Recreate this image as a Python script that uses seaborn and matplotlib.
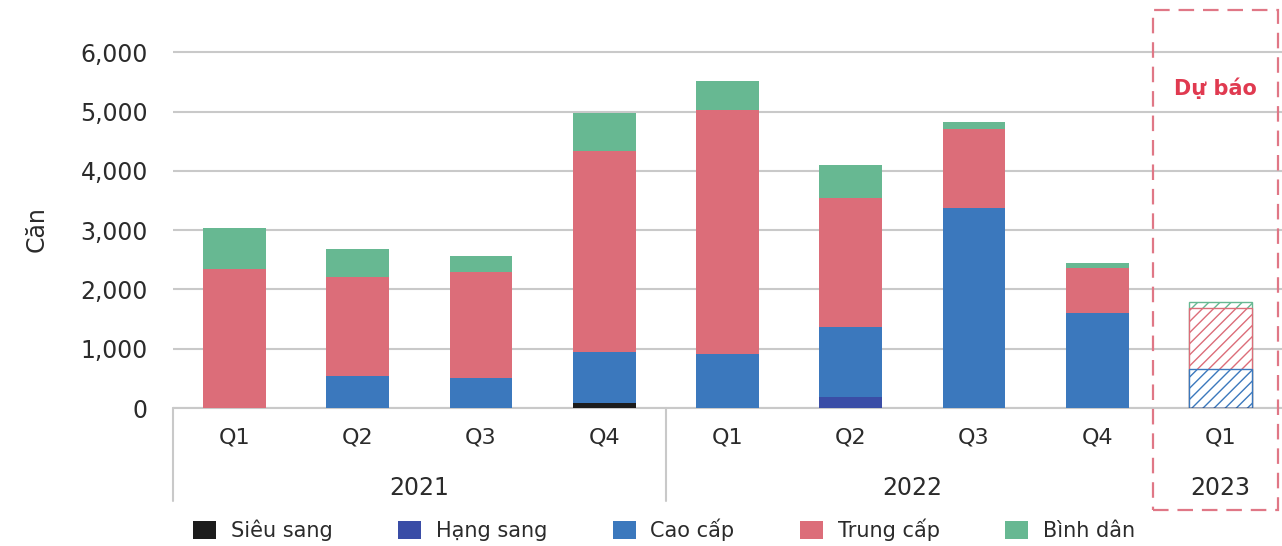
import numpy as np
import pandas as pd
import matplotlib
matplotlib.use("Agg")
import matplotlib.pyplot as plt
import matplotlib.transforms as mtransforms
from matplotlib.patches import Patch, Rectangle
import seaborn as sns

# data (units: căn)
periods = ["2021 Q1", "2021 Q2", "2021 Q3", "2021 Q4",
           "2022 Q1", "2022 Q2", "2022 Q3", "2022 Q4", "2023 Q1"]
quarter_labels = ["Q1", "Q2", "Q3", "Q4", "Q1", "Q2", "Q3", "Q4", "Q1"]
years = ["2021", "2022", "2023"]
segments = ["Siêu sang", "Hạng sang", "Cao cấp", "Trung cấp", "Bình dân"]

sieu_sang = [0, 0, 0, 80, 0, 0, 0, 0, 0]
hang_sang = [0, 0, 0, 0, 0, 180, 0, 0, 0]
cao_cap = [0, 546, 507, 860, 912, 1194, 3378, 1600, 660]
trung_cap = [2350, 1667, 1790, 3390, 4110, 2167, 1329, 753, 1030]
binh_dan = [690, 473, 270, 637, 490, 563, 123, 90, 90]

colors = ["#1c1c1c", "#3a4da6", "#3b78bd", "#dc6d79", "#67b892"]
forecast = [False] * 8 + [True]

df = pd.DataFrame({"period": periods, "Siêu sang": sieu_sang, "Hạng sang": hang_sang,
                   "Cao cấp": cao_cap, "Trung cấp": trung_cap, "Bình dân": binh_dan})
cum = df[segments].cumsum(axis=1)

sns.set_style("white")
plt.rcParams["font.family"] = ["DejaVu Sans"]
plt.rcParams["hatch.linewidth"] = 1.0
text_col = "#2b2b2b"
grid_col = "#c9c9c9"

fig = plt.figure(figsize=(12.82, 5.46), dpi=100)
ax = fig.add_axes([173 / 1282, 1 - 408 / 546, 1 - 173 / 1282, (6.05 * 59.3) / 546])

# stacked bars: draw cumulative totals from the top segment down
for seg, col in reversed(list(zip(segments, colors))):
    n_before = len(ax.patches)
    sns.barplot(x=df["period"], y=cum[seg], order=periods, color=col,
                width=0.51, linewidth=0, saturation=1, ax=ax)
    for p, fc in zip(ax.patches[n_before:], forecast):
        if fc:
            p.set_facecolor("white")
            p.set_edgecolor(col)
            p.set_hatch("///")
            p.set_linewidth(1.0)

ax.set_xlim(-0.5, 8.5)
ax.set_ylim(0, 6050)
ax.set_yticks(range(0, 7000, 1000))
ax.set_yticklabels([f"{v:,}" for v in range(0, 7000, 1000)], fontsize=17, color=text_col)
ax.set_xticks(range(len(periods)))
ax.set_xticklabels(quarter_labels, fontsize=16, color=text_col)
ax.tick_params(axis="y", length=0, pad=18)
ax.tick_params(axis="x", length=0, pad=14)
ax.set_xlabel("")
ax.set_ylabel("Căn", fontsize=17, color=text_col)
ax.yaxis.set_label_coords(-0.112, 0.5)

ax.set_axisbelow(True)
ax.yaxis.grid(True, color=grid_col, linewidth=1.5)
ax.axhline(0, color=grid_col, linewidth=1.5, clip_on=False, zorder=0.5)
sns.despine(ax=ax, left=True, bottom=True)

trans = mtransforms.blended_transform_factory(ax.transData, ax.transAxes)
# year group labels and separators below the axis
for xpos, yr in zip([1.5, 5.5, 8.0], years):
    ax.text(xpos, -0.222, yr, transform=trans, ha="center", va="center",
            fontsize=17, color=text_col)
for xsep in [-0.5, 3.5]:
    ax.plot([xsep, xsep], [0, -0.26], transform=trans, color=grid_col,
            linewidth=1.5, clip_on=False)

# forecast box
ftrans = mtransforms.blended_transform_factory(ax.transData, fig.transFigure)
box = Rectangle((7.45, 36 / 546), 1.02, (510 - 10) / 546, transform=ftrans,
                fill=False, edgecolor="#e07786", linewidth=1.6,
                linestyle=(0, (7, 4)), clip_on=False)
fig.add_artist(box)
ax.text(7.96, 1 - 88 / 546, "Dự báo", transform=ftrans, ha="center", va="center",
        fontsize=15, fontweight="bold", color="#e03a50")

handles = [Patch(facecolor=c, edgecolor="none", label=s) for s, c in zip(segments, colors)]
fig.legend(handles=handles, loc="center", bbox_to_anchor=(0.518, 1 - 530 / 546),
           ncol=5, frameon=False, fontsize=15, handlelength=1.1, handleheight=0.9,
           handletextpad=0.7, columnspacing=3.15, labelcolor=text_col)

fig.savefig("out.png", dpi=100)
